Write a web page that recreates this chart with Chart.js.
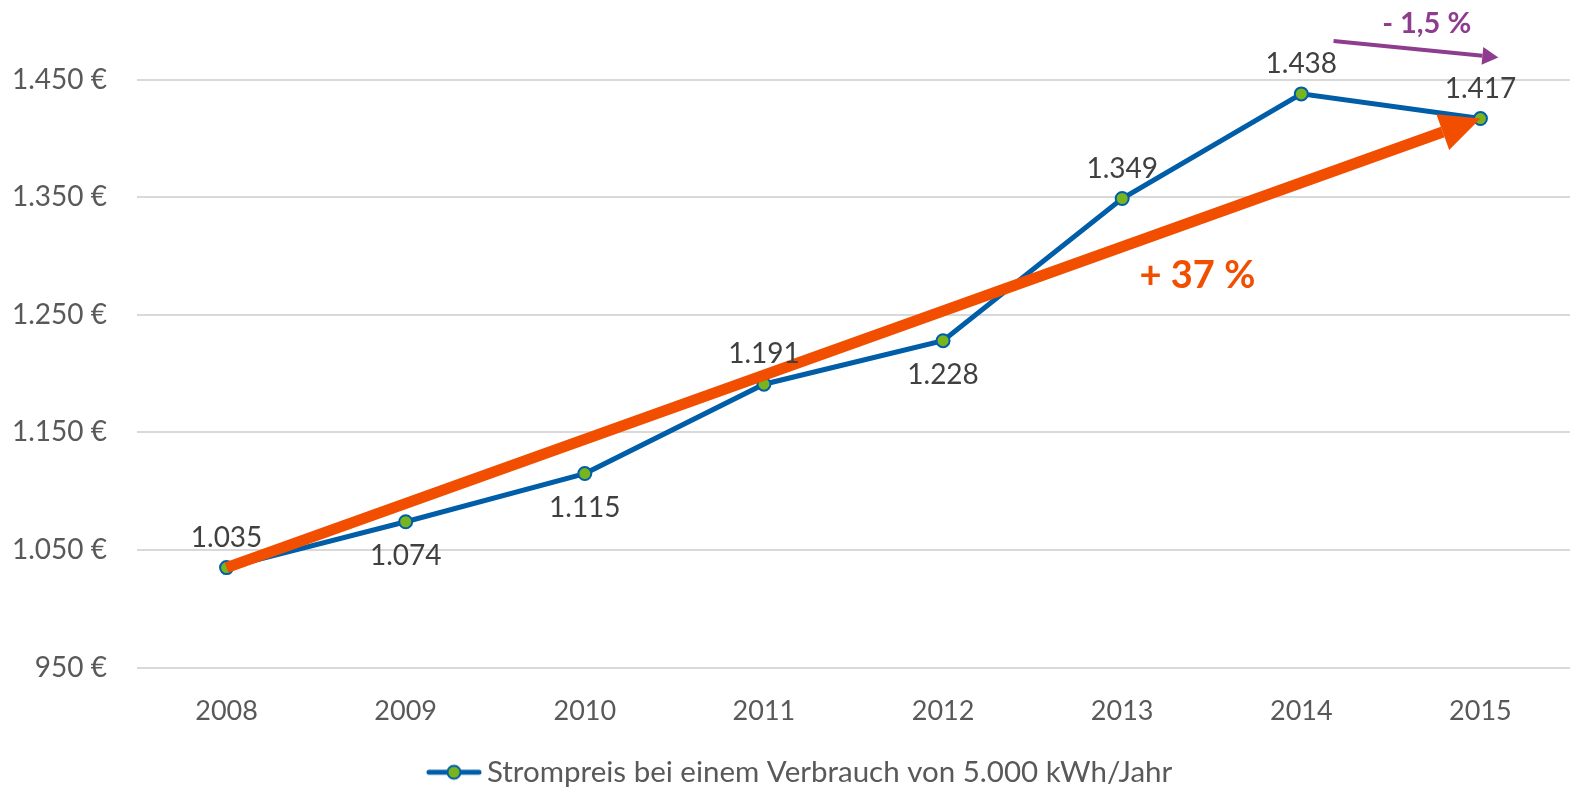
<!DOCTYPE html>
<html>
<head>
  <meta charset="utf-8">
  <script src="https://cdn.jsdelivr.net/npm/chart.js@4.4.0/dist/chart.umd.min.js"></script>
  <style>
    html, body { margin: 0; padding: 0; background: #fff; overflow: hidden; }
    #wrap { width: 1570px; height: 788px; }
  </style>
</head>
<body>
  <div id="wrap"><canvas id="graph"></canvas></div>

  <script>
    // data
    var years = ['2008', '2009', '2010', '2011', '2012', '2013', '2014', '2015'];
    var prices = [1035, 1074, 1115, 1191, 1228, 1349, 1438, 1417];
    var labelSide = ['up', 'down', 'down', 'up', 'down', 'up', 'up', 'up'];
    var yTicks = [950, 1050, 1150, 1250, 1350, 1450];
    var seriesName = 'Strompreis bei einem Verbrauch von 5.000 kWh/Jahr';

    var blue = '#005EA8';
    var green = '#78B41E';
    var orange = '#F24E00';
    var purple = '#8E3C8E';
    var font = 'Lato, "Open Sans", sans-serif';

    function fmt(v) {
      return v.toLocaleString('de-DE');
    }

    // legend marker: line with a dot
    var marker = document.createElement('canvas');
    marker.width = 56; marker.height = 18;
    (function() {
      var c = marker.getContext('2d');
      c.strokeStyle = blue; c.lineWidth = 5; c.lineCap = 'round';
      c.beginPath(); c.moveTo(3, 9); c.lineTo(53, 9); c.stroke();
      c.beginPath(); c.arc(28, 9, 6.5, 0, Math.PI * 2);
      c.fillStyle = green; c.fill();
      c.lineWidth = 2; c.stroke();
    })();

    function arrow(ctx, x1, y1, x2, y2, w, headLen, headW, color) {
      var a = Math.atan2(y2 - y1, x2 - x1);
      var bx = x2 - Math.cos(a) * headLen, by = y2 - Math.sin(a) * headLen;
      ctx.save();
      ctx.strokeStyle = color; ctx.fillStyle = color;
      ctx.lineWidth = w; ctx.lineCap = 'butt';
      ctx.beginPath(); ctx.moveTo(x1, y1); ctx.lineTo(bx, by); ctx.stroke();
      ctx.beginPath();
      ctx.moveTo(x2, y2);
      ctx.lineTo(bx + Math.sin(a) * headW, by - Math.cos(a) * headW);
      ctx.lineTo(bx - Math.sin(a) * headW, by + Math.cos(a) * headW);
      ctx.closePath(); ctx.fill();
      ctx.restore();
    }

    var extras = {
      id: 'extras',
      afterLayout: function(chart) {
        // legend is centred under the plot area, not the whole canvas
        chart.legend.left += 19;
        chart.legend.right += 19;
      },
      afterDatasetsDraw: function(chart) {
        var ctx = chart.ctx;
        var xs = chart.scales.x, ys = chart.scales.y;
        var pts = chart.getDatasetMeta(0).data;

        // overall trend arrow from first to last value
        arrow(ctx, pts[0].x, pts[0].y, pts[pts.length - 1].x, pts[pts.length - 1].y, 11, 40, 19, orange);

        // last year change arrow
        arrow(ctx, xs.getPixelForValue(6.18), ys.getPixelForValue(1483),
          xs.getPixelForValue(7.1), ys.getPixelForValue(1469), 4, 16, 9, purple);

        ctx.save();
        ctx.textAlign = 'center';
        ctx.textBaseline = 'middle';
        ctx.font = 'bold 38px ' + font;
        ctx.fillStyle = orange;
        ctx.fillText('+ 37 %', xs.getPixelForValue(5.42), ys.getPixelForValue(1283));
        ctx.font = 'bold 29px ' + font;
        ctx.fillStyle = purple;
        ctx.fillText('- 1,5 %', xs.getPixelForValue(6.7), ys.getPixelForValue(1498));

        // value labels
        ctx.font = '28px ' + font;
        ctx.fillStyle = '#404040';
        for (var i = 0; i < pts.length; i++) {
          var dy = labelSide[i] === 'up' ? -30 : 34;
          ctx.fillText(fmt(prices[i]), pts[i].x, pts[i].y + dy);
        }
        ctx.restore();
      }
    };

    var chart = new Chart(document.getElementById('graph'), {
      type: 'line',
      data: {
        labels: years,
        datasets: [{
          label: seriesName,
          data: prices,
          borderColor: blue,
          borderWidth: 5,
          pointRadius: 6.5,
          pointBorderWidth: 2,
          pointBackgroundColor: green,
          pointBorderColor: blue,
          pointStyle: 'circle',
          tension: 0
        }]
      },
      options: {
        responsive: true,
        maintainAspectRatio: false,
        animation: false,
        layout: { autoPadding: false, padding: { top: 21, right: 0, left: 0, bottom: -9 } },
        plugins: {
          tooltip: { enabled: false },
          legend: {
            position: 'bottom',
            labels: {
              usePointStyle: true,
              pointStyleWidth: 36.5,
              color: '#595959',
              font: { family: font, size: 29.5 },
              padding: 8,
              generateLabels: function(c) {
                return [{
                  text: seriesName,
                  pointStyle: marker,
                  fillStyle: green,
                  strokeStyle: blue,
                  lineWidth: 0,
                  datasetIndex: 0,
                  fontColor: '#595959'
                }];
              }
            }
          }
        },
        scales: {
          x: {
            offset: true,
            grid: { display: false },
            border: { display: false },
            ticks: {
              color: '#595959',
              font: { family: font, size: 27 },
              padding: 20
            },
            afterFit: function(s) {
              s.height = 82;
              s.paddingLeft = 0;
              s.paddingRight = 0;
            }
          },
          y: {
            min: 950,
            max: 1500,
            border: { display: false },
            grid: { color: '#D9D9D9', lineWidth: 2, drawTicks: false },
            ticks: {
              color: '#595959',
              font: { family: font, size: 28 },
              padding: 30,
              callback: function(v) { return fmt(v) + ' €'; }
            },
            afterBuildTicks: function(s) {
              s.ticks = yTicks.map(function(v) { return { value: v }; });
            },
            afterFit: function(s) {
              s.width = 137;
              s.paddingTop = 0;
              s.paddingBottom = 0;
            }
          }
        }
      },
      plugins: [extras]
    });
  </script>
</body>
</html>
